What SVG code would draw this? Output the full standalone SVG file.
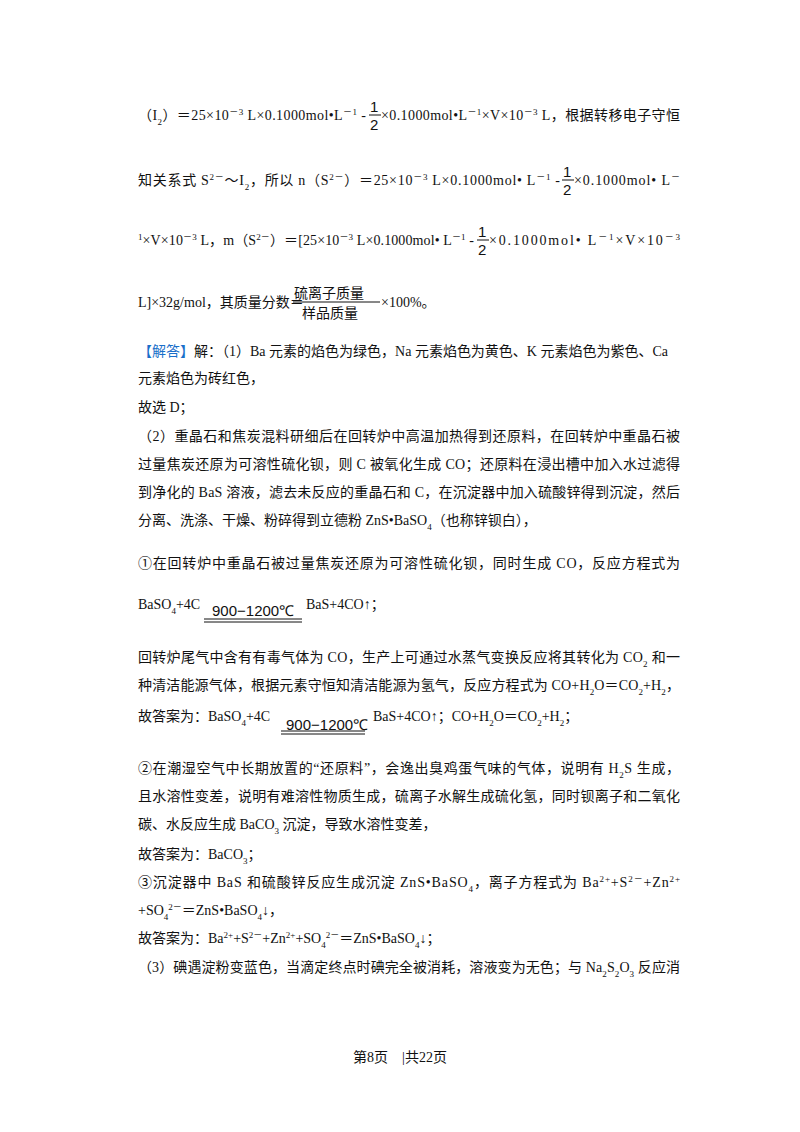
<svg xmlns="http://www.w3.org/2000/svg" width="800" height="1132" viewBox="0 0 800 1132">
<style>
text{font-family:"Liberation Serif","Noto Sans CJK SC",serif;font-size:14px;fill:#111}
.s{font-family:"Noto Sans CJK SC",sans-serif}
.b{fill:#1a6fc9}
.fr{font-family:"Liberation Sans",sans-serif;font-size:15px}
</style>
<rect width="800" height="1132" fill="#fff"/>
<g id="fractions" stroke="#111" stroke-width="1">
<line x1="369" y1="115" x2="381" y2="115"/>
<line x1="562" y1="180" x2="574" y2="180"/>
<line x1="477" y1="240" x2="489" y2="240"/>
<line x1="293" y1="302" x2="380" y2="302"/>
<line x1="204" y1="619" x2="302" y2="619"/><line x1="204" y1="622" x2="302" y2="622"/>
<line x1="281" y1="731" x2="365" y2="731"/><line x1="281" y1="734" x2="365" y2="734"/>
</g>
<g id="text">
<text x="138" y="120" textLength="228" lengthAdjust="spacing">（I<tspan font-size="9" baseline-shift="sub">2</tspan>）＝25×10<tspan font-size="9" baseline-shift="super">－3</tspan> L×0.1000mol•L<tspan font-size="9" baseline-shift="super">－1</tspan> -</text>
<text class="fr" x="370" y="112">1</text><text class="fr" x="370" y="130">2</text>
<text x="381" y="120" textLength="299" lengthAdjust="spacing">×0.1000mol•L<tspan font-size="9" baseline-shift="super">－1</tspan>×V×10<tspan font-size="9" baseline-shift="super">－3</tspan> L，根据转移电子守恒</text>
<text x="138" y="185" textLength="422" lengthAdjust="spacing">知关系式 S<tspan font-size="9" baseline-shift="super">2－</tspan>～I<tspan font-size="9" baseline-shift="sub">2</tspan>，所以 n（S<tspan font-size="9" baseline-shift="super">2－</tspan>）＝25×10<tspan font-size="9" baseline-shift="super">－3</tspan> L×0.1000mol• L<tspan font-size="9" baseline-shift="super">－1</tspan> -</text>
<text class="fr" x="563" y="177">1</text><text class="fr" x="563" y="195">2</text>
<text x="574" y="185" textLength="106" lengthAdjust="spacing">×0.1000mol• L<tspan font-size="9" baseline-shift="super">－</tspan></text>
<text x="138" y="245" textLength="336" lengthAdjust="spacing"><tspan font-size="9" baseline-shift="super">1</tspan>×V×10<tspan font-size="9" baseline-shift="super">－3</tspan> L，m（S<tspan font-size="9" baseline-shift="super">2－</tspan>）＝[25×10<tspan font-size="9" baseline-shift="super">－3</tspan> L×0.1000mol• L<tspan font-size="9" baseline-shift="super">－1</tspan> -</text>
<text class="fr" x="478" y="237">1</text><text class="fr" x="478" y="255">2</text>
<text x="489" y="245" textLength="191" lengthAdjust="spacing">×0.1000mol• L<tspan font-size="9" baseline-shift="super">－1</tspan>×V×10<tspan font-size="9" baseline-shift="super">－3</tspan></text>
<text x="138" y="307">L]×32g/mol，其质量分数＝</text>
<text class="s" x="294" y="298" font-size="16">硫离子质量</text>
<text class="s" x="302" y="318" font-size="16">样品质量</text>
<text x="381" y="307">×100%。</text>
<text x="138" y="356"><tspan class="b">【解答】</tspan>解：（1）Ba 元素的焰色为绿色，Na 元素焰色为黄色、K 元素焰色为紫色、Ca</text>
<text x="138" y="383">元素焰色为砖红色，</text>
<text x="138" y="412">故选 D；</text>
<text x="138" y="441" textLength="542" lengthAdjust="spacing">（2）重晶石和焦炭混料研细后在回转炉中高温加热得到还原料，在回转炉中重晶石被</text>
<text x="138" y="469" textLength="542" lengthAdjust="spacing">过量焦炭还原为可溶性硫化钡，则 C 被氧化生成 CO；还原料在浸出槽中加入水过滤得</text>
<text x="138" y="497" textLength="542" lengthAdjust="spacing">到净化的 BaS 溶液，滤去未反应的重晶石和 C，在沉淀器中加入硫酸锌得到沉淀，然后</text>
<text x="138" y="525">分离、洗涤、干燥、粉碎得到立德粉 ZnS•BaSO<tspan font-size="9" baseline-shift="sub">4</tspan>（也称锌钡白），</text>
<text x="138" y="568" textLength="542" lengthAdjust="spacing">①在回转炉中重晶石被过量焦炭还原为可溶性硫化钡，同时生成 CO，反应方程式为</text>
<text x="138" y="609">BaSO<tspan font-size="9" baseline-shift="sub">4</tspan>+4C</text>
<text class="fr" x="212" y="616" font-size="16">900−1200℃</text>
<text x="306" y="609">BaS+4CO↑；</text>
<text x="138" y="662" textLength="542" lengthAdjust="spacing">回转炉尾气中含有有毒气体为 CO，生产上可通过水蒸气变换反应将其转化为 CO<tspan font-size="9" baseline-shift="sub">2</tspan> 和一</text>
<text x="138" y="690" textLength="542" lengthAdjust="spacing">种清洁能源气体，根据元素守恒知清洁能源为氢气，反应方程式为 CO+H<tspan font-size="9" baseline-shift="sub">2</tspan>O＝CO<tspan font-size="9" baseline-shift="sub">2</tspan>+H<tspan font-size="9" baseline-shift="sub">2</tspan>，</text>
<text x="138" y="721">故答案为：BaSO<tspan font-size="9" baseline-shift="sub">4</tspan>+4C</text>
<text class="fr" x="286" y="730" font-size="16">900−1200℃</text>
<text x="373" y="721">BaS+4CO↑；CO+H<tspan font-size="9" baseline-shift="sub">2</tspan>O＝CO<tspan font-size="9" baseline-shift="sub">2</tspan>+H<tspan font-size="9" baseline-shift="sub">2</tspan>；</text>
<text x="138" y="773" textLength="542" lengthAdjust="spacing">②在潮湿空气中长期放置的“还原料”，会逸出臭鸡蛋气味的气体，说明有 H<tspan font-size="9" baseline-shift="sub">2</tspan>S 生成，</text>
<text x="138" y="801" textLength="542" lengthAdjust="spacing">且水溶性变差，说明有难溶性物质生成，硫离子水解生成硫化氢，同时钡离子和二氧化</text>
<text x="138" y="829">碳、水反应生成 BaCO<tspan font-size="9" baseline-shift="sub">3</tspan> 沉淀，导致水溶性变差，</text>
<text x="138" y="859">故答案为：BaCO<tspan font-size="9" baseline-shift="sub">3</tspan>；</text>
<text x="138" y="887" textLength="542" lengthAdjust="spacing">③沉淀器中 BaS 和硫酸锌反应生成沉淀 ZnS•BaSO<tspan font-size="9" baseline-shift="sub">4</tspan>，离子方程式为 Ba<tspan font-size="9" baseline-shift="super">2+</tspan>+S<tspan font-size="9" baseline-shift="super">2－</tspan>+Zn<tspan font-size="9" baseline-shift="super">2+</tspan></text>
<text x="138" y="915">+SO<tspan font-size="9" baseline-shift="sub">4</tspan><tspan font-size="9" baseline-shift="super">2－</tspan>＝ZnS•BaSO<tspan font-size="9" baseline-shift="sub">4</tspan>↓，</text>
<text x="138" y="943">故答案为：Ba<tspan font-size="9" baseline-shift="super">2+</tspan>+S<tspan font-size="9" baseline-shift="super">2－</tspan>+Zn<tspan font-size="9" baseline-shift="super">2+</tspan>+SO<tspan font-size="9" baseline-shift="sub">4</tspan><tspan font-size="9" baseline-shift="super">2－</tspan>＝ZnS•BaSO<tspan font-size="9" baseline-shift="sub">4</tspan>↓；</text>
<text x="138" y="972" textLength="542" lengthAdjust="spacing">（3）碘遇淀粉变蓝色，当滴定终点时碘完全被消耗，溶液变为无色；与 Na<tspan font-size="9" baseline-shift="sub">2</tspan>S<tspan font-size="9" baseline-shift="sub">2</tspan>O<tspan font-size="9" baseline-shift="sub">3</tspan> 反应消</text>
<text x="400" y="1062" text-anchor="middle" font-size="12">第8页　|共22页</text>
</g>
</svg>
